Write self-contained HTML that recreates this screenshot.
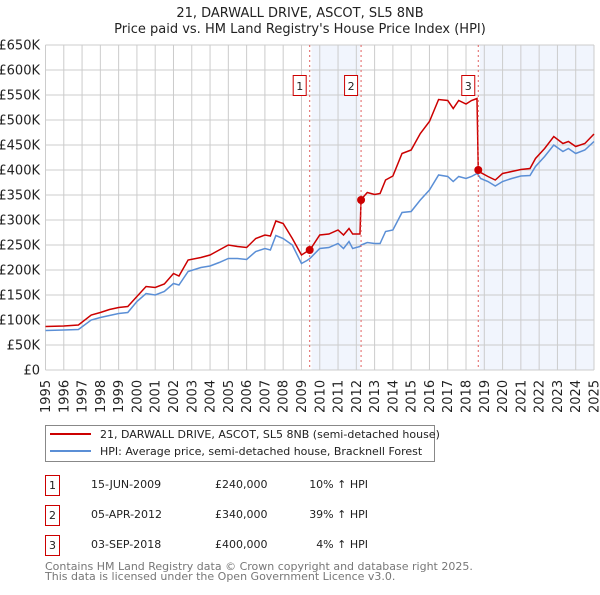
<!DOCTYPE html>
<html><head><meta charset="utf-8"><style>
body{margin:0;background:#fff;font-family:"Liberation Sans","DejaVu Sans",sans-serif;}
svg text{font-family:"DejaVu Sans","Liberation Sans",sans-serif;}
</style></head><body>
<svg id="chart" width="600" height="590" xmlns="http://www.w3.org/2000/svg">
<text x="300" y="17" text-anchor="middle" font-size="13" fill="#222">21, DARWALL DRIVE, ASCOT, SL5 8NB</text>
<text x="300" y="33" text-anchor="middle" font-size="13" fill="#222">Price paid vs. HM Land Registry's House Price Index (HPI)</text>
<g id="shade"></g><g id="grid"></g><g id="ylab"></g><g id="xlab"></g><g id="lines"></g><g id="marks"></g>
<rect x="45.5" y="425.5" width="389" height="36" fill="#fff" stroke="#888"/>
<line x1="50" y1="434" x2="91" y2="434" stroke="#cc0000" stroke-width="2"/>
<text x="100" y="438" font-size="11" fill="#222">21, DARWALL DRIVE, ASCOT, SL5 8NB (semi-detached house)</text>
<line x1="50" y1="451" x2="91" y2="451" stroke="#5b8fd6" stroke-width="2"/>
<text x="100" y="455" font-size="11" fill="#222">HPI: Average price, semi-detached house, Bracknell Forest</text>
<g id="table" font-size="11" fill="#222"></g>
<text x="45" y="570" font-size="11" fill="#777">Contains HM Land Registry data © Crown copyright and database right 2025.</text>
<text x="45" y="580" font-size="11" fill="#777">This data is licensed under the Open Government Licence v3.0.</text>
</svg>
<script>
const years=[1995,1996,1996.8,1997.5,1998,1998.5,1999,1999.5,2000,2000.5,2001,2001.5,2002,2002.3,2002.8,2003.5,2004,2004.5,2005,2005.5,2006,2006.5,2007,2007.3,2007.6,2008,2008.5,2009,2009.3,2009.46,2010,2010.5,2011,2011.3,2011.6,2011.8,2012.2,2012.26,2012.6,2013,2013.3,2013.6,2014,2014.5,2015,2015.5,2016,2016.5,2017,2017.3,2017.6,2018,2018.3,2018.6,2018.67,2018.8,2019.2,2019.6,2020,2020.5,2021,2021.5,2021.8,2022.3,2022.8,2023.3,2023.6,2024,2024.5,2025];
const hpiValues=[79,80,81,100,105,109,113,115,137,153,150,157,173,170,197,205,208,215,223,223,221,237,243,240,269,263,250,213,219,223,243,245,253,243,257,243,247,250,255,253,253,277,280,315,317,340,360,390,387,377,387,383,387,393,390,383,377,368,377,383,388,389,407,427,450,437,443,433,440,457];
const priceValues=[87,88,90,110,115,121,125,127,147,167,165,172,193,188,220,225,230,240,250,247,245,263,270,268,298,293,263,230,237,240,270,272,280,270,283,272,272,341,355,351,353,380,388,433,440,473,497,541,539,523,539,532,539,543,400,395,387,380,393,397,401,403,423,443,467,453,457,447,453,472];
const saleYears=[2009.45,2012.26,2018.67];
const salePrices=[240,340,400];
const saleLabels=["1","2","3"];
const saleDates=["15-JUN-2009","05-APR-2012","03-SEP-2018"];
const salePriceText=["£240,000","£340,000","£400,000"];
const saleHpiText=["10% ↑ HPI","39% ↑ HPI","4% ↑ HPI"];
const yTicks=[0,50,100,150,200,250,300,350,400,450,500,550,600,650];
const yTickLabels=["£0","£50K","£100K","£150K","£200K","£250K","£300K","£350K","£400K","£450K","£500K","£550K","£600K","£650K"];
const xTicks=[1995,1996,1997,1998,1999,2000,2001,2002,2003,2004,2005,2006,2007,2008,2009,2010,2011,2012,2013,2014,2015,2016,2017,2018,2019,2020,2021,2022,2023,2024,2025];

const NS="http://www.w3.org/2000/svg";
const L=45.5,R=594,T=45,B=370;
const xs=y=>L+(y-1995)/30*(R-L);
const ys=v=>B-v/650*(B-T);
function mk(tag,attrs,parent){const e=document.createElementNS(NS,tag);for(const k in attrs)e.setAttribute(k,attrs[k]);document.getElementById(parent).appendChild(e);return e;}

let s=mk('rect',{x:xs(2009.55),y:T,width:xs(2012.2)-xs(2009.55),height:B-T,fill:'#eef3fc',opacity:0.8},'shade');


s=mk('rect',{x:xs(2018.75),y:T,width:R-xs(2018.75),height:B-T,fill:'#eef3fc',opacity:0.8},'shade');



yTicks.forEach((v,i)=>{
 const g=mk('line',{x1:L,x2:R,y1:ys(v),y2:ys(v),stroke:'#cccccc','stroke-width':1},'grid');
 
 
 const t=mk('text',{x:40,y:ys(v)+4.5,'text-anchor':'end','font-size':13,fill:'#222'},'ylab');
 t.textContent=yTickLabels[i];
 
 
});
xTicks.forEach(y=>{
 const g=mk('line',{x1:xs(y),x2:xs(y),y1:T,y2:B,stroke:'#cccccc','stroke-width':1},'grid');
 
 
 const t=mk('text',{transform:`translate(${xs(y)+4.5},${413}) rotate(-90)`,'font-size':13,fill:'#222'},'xlab');
 t.textContent=y;
 
 
});
saleYears.forEach((y,i)=>{
 const d=mk('line',{x1:xs(y),x2:xs(y),y1:T,y2:B,stroke:'#e06060','stroke-width':1,'stroke-dasharray':'2,3'},'marks');
 
 
});
const hp=mk('polyline',{points:years.map((y,i)=>xs(y)+','+ys(hpiValues[i])).join(' '),fill:'none',stroke:'#5b8fd6','stroke-width':1.5},'lines');


const pp=mk('polyline',{points:years.map((y,i)=>xs(y)+','+ys(priceValues[i])).join(' '),fill:'none',stroke:'#cc0000','stroke-width':1.5},'lines');


saleYears.forEach((y,i)=>{
 const c=mk('circle',{cx:xs(y),cy:ys(salePrices[i]),r:4,fill:'#cc0000'},'marks');
 
 
 const bx=xs(y)-10;
 const r=mk('rect',{x:bx-6.5,y:75.5,width:13,height:20,fill:'#fff',stroke:'#cc0000'},'marks');
 
 
 const t=mk('text',{x:bx,y:90,'text-anchor':'middle','font-size':11,fill:'#222'},'marks');
 t.textContent=saleLabels[i];
 
 
 const ry=475+i*30;
 const b=mk('rect',{x:45.5,y:ry+0.5,width:14,height:20,fill:'#fff',stroke:'#cc0000'},'table');
 
 
 const n=mk('text',{x:52.5,y:ry+14,'text-anchor':'middle'},'table');n.textContent=saleLabels[i];
 
 
 const dt=mk('text',{x:91,y:ry+13},'table');dt.textContent=saleDates[i];
 
 
 const pr=mk('text',{x:215,y:ry+13},'table');pr.textContent=salePriceText[i];
 
 
 const hh=mk('text',{x:368,y:ry+13,'text-anchor':'end'},'table');hh.textContent=saleHpiText[i];
 
 
});
</script>
</body></html>
